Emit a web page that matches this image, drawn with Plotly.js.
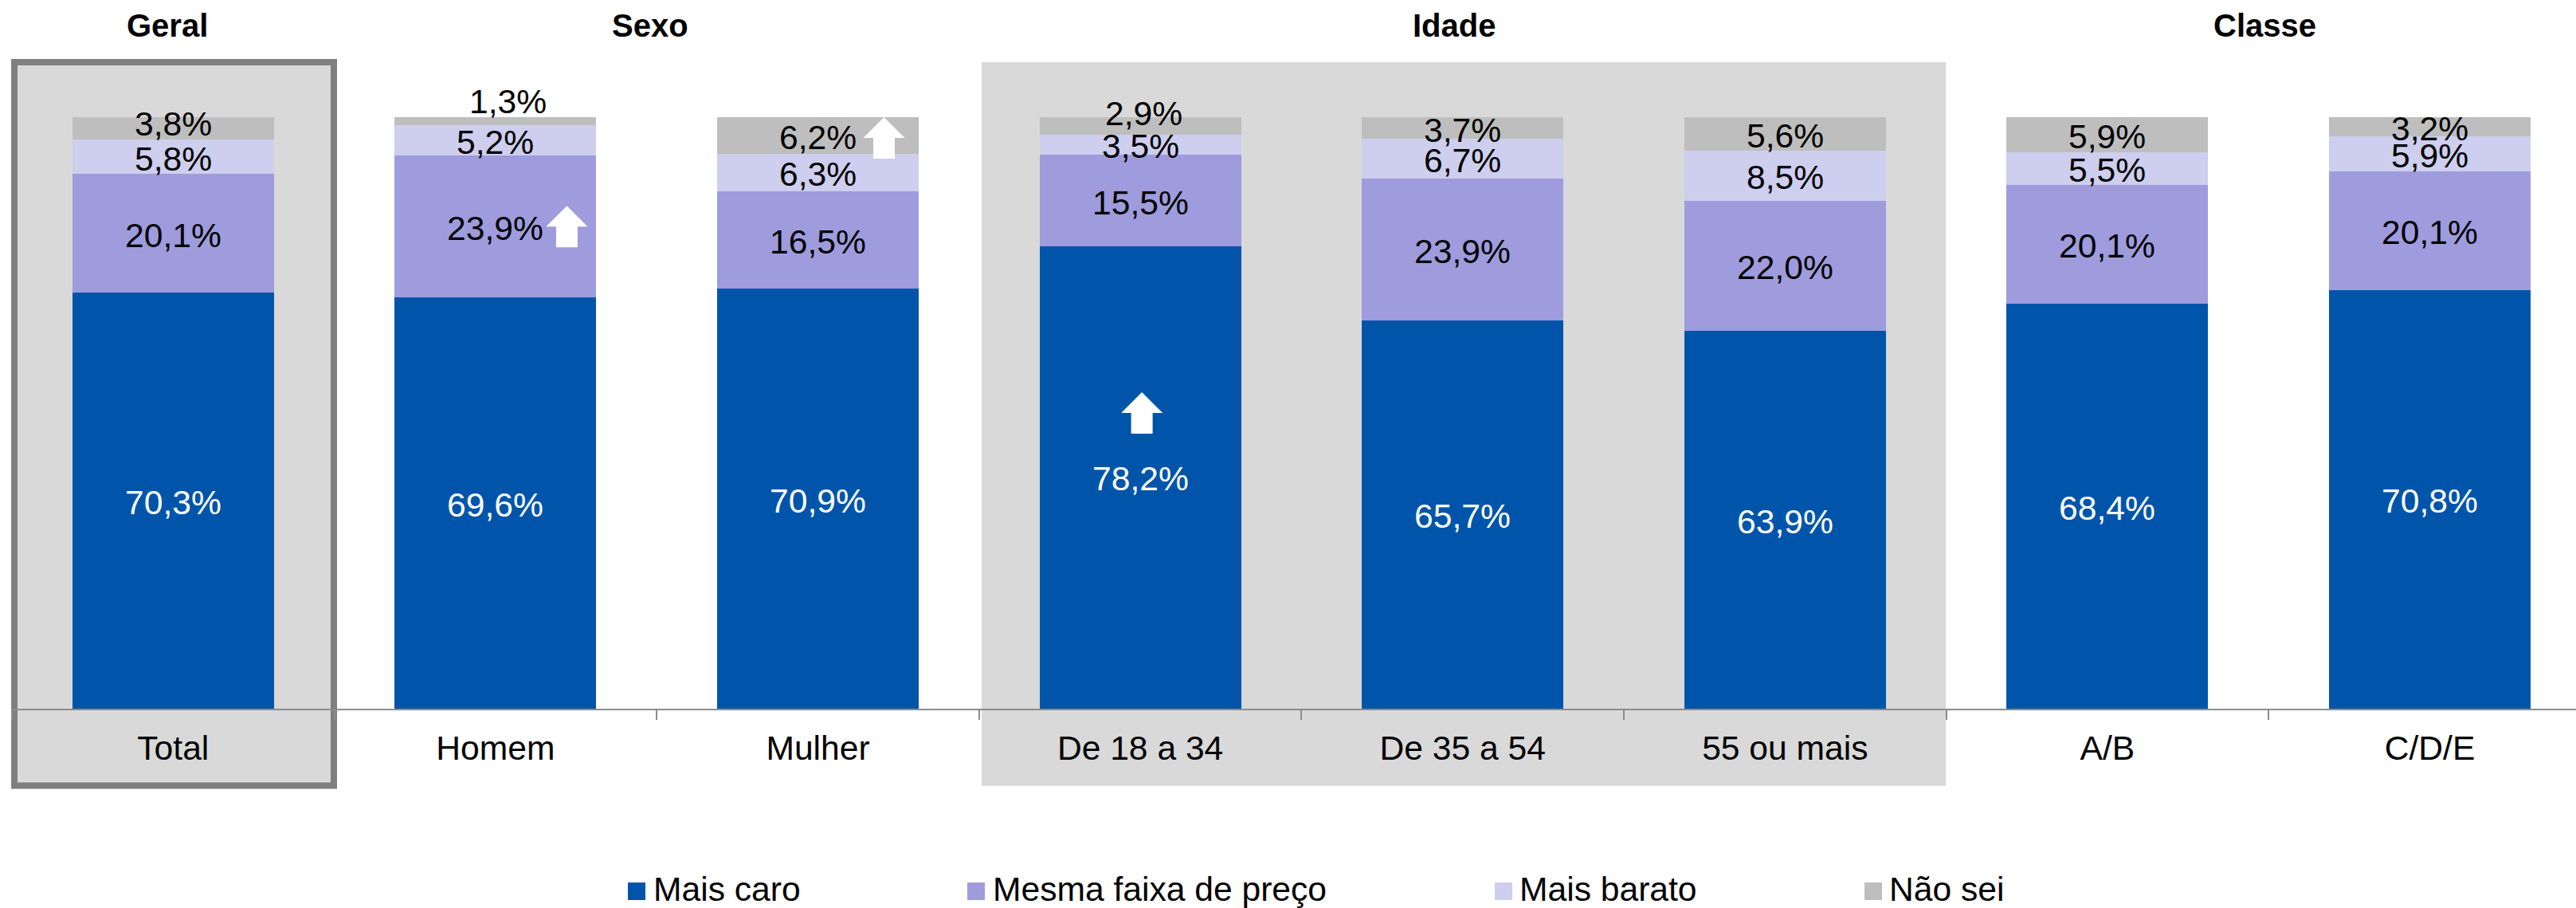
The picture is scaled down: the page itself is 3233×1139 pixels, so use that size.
<!DOCTYPE html>
<html>
<head>
<meta charset="utf-8">
<script src="https://cdn.plot.ly/plotly-3.0.1.min.js"></script>
<style>html,body{margin:0;padding:0;background:#fff;overflow:hidden}</style>
</head>
<body>
<div id="chart" style="width:3233px;height:1139px"></div>
<script>
// ---- data ----
const categories = ['Total','Homem','Mulher','De 18 a 34','De 35 a 54','55 ou mais','A/B','C/D/E'];
const maisCaro   = [70.3,69.6,70.9,78.2,65.7,63.9,68.4,70.8];
const mesmaFaixa = [20.1,23.9,16.5,15.5,23.9,22.0,20.1,20.1];
const maisBarato = [5.8,5.2,6.3,3.5,6.7,8.5,5.5,5.9];
const naoSei     = [3.8,1.3,6.2,2.9,3.7,5.6,5.9,3.2];
const seriesNames = ['Mais caro','Mesma faixa de preço','Mais barato','Não sei'];
const groupTitles = ['Geral','Sexo','Idade','Classe'];
const raisedMarks = [['Homem',85.0],['Mulher',100],['De 18 a 34',53.5]]; // significance arrows: category, tip value

// ---- presentation ----
const W = 3233, H = 1139, L = 15, T = 147, B = 889;
const FONT = '"Liberation Sans", Arial, sans-serif';
const LABEL_SIZE = 42.6;
const colors = ['#0055AA','#9E9CDD','#CECEEE','#BEBEBE'];
const textColors = ['#ffffff','#000000','#000000','#000000'];
const px = x => (x - L) / (W - L);
const py = y => (B - y) / (B - T);
const fmt = v => v.toFixed(1).replace('.', ',') + '%';

const seriesValues = [maisCaro, mesmaFaixa, maisBarato, naoSei];
// Labels the original nudges away from the centre of their segment: [dx, dy] in px, keyed series:category.
const defaultShift = [0, 2];
const labelShift = {'3:Total':[0,-6],'3:Homem':[16,-25],'3:De 18 a 34':[4,-16],'0:De 18 a 34':[0,1]};

const traces = seriesValues.map((vals, s) => ({
  type: 'bar',
  name: seriesNames[s],
  x: categories,
  y: vals,
  marker: {color: colors[s], line: {width: 0}},
  text: vals.map(fmt),
  textposition: 'none',
  showlegend: false,
  hovertemplate: '%{x}<br>' + seriesNames[s] + ': %{text}<extra></extra>'
}));

const annotations = [];
// Value labels sit above every bar (the original lets them overlap neighbouring segments).
categories.forEach((c, i) => {
  const total = seriesValues.reduce((a, sv) => a + sv[i], 0);
  let below = 0;
  seriesValues.forEach((sv, s) => {
    const shift = labelShift[s + ':' + c] || defaultShift;
    annotations.push({
      x: c, xref: 'x', y: (below + sv[i] / 2) * 100 / total, yref: 'y',
      text: fmt(sv[i]), showarrow: false, xanchor: 'center', yanchor: 'middle',
      xshift: shift[0], yshift: -shift[1],
      font: {family: FONT, size: LABEL_SIZE, color: textColors[s]}
    });
    below += sv[i];
  });
});

const groupX = [209.5, 816, 1825, 2842];
groupTitles.forEach((t, i) => annotations.push({
  x: px(groupX[i]), xref: 'paper', y: py(32), yref: 'paper',
  text: '<b>' + t + '</b>', showarrow: false, xanchor: 'center', yanchor: 'middle',
  font: {family: FONT, size: 40, color: '#000'}
}));

const legendSwatchX = [788, 1214, 1876, 2340];
const legendTextX = [819, 1245, 1906, 2370];
const shapes = [
  {type:'rect', xref:'paper', yref:'paper', x0:px(18), x1:px(419), y0:py(985.5), y1:py(78),
   layer:'below', fillcolor:'#D9D9D9', line:{color:'#7F7F7F', width:8}},
  {type:'rect', xref:'paper', yref:'paper', x0:px(1232), x1:px(2442), y0:py(985.7), y1:py(78),
   layer:'below', fillcolor:'#D9D9D9', line:{width:0}}
];
seriesNames.forEach((n, i) => {
  shapes.push({type:'rect', xref:'paper', yref:'paper',
    x0:px(legendSwatchX[i]), x1:px(legendSwatchX[i]+22), y0:py(1129), y1:py(1107),
    fillcolor:colors[i], line:{width:0}});
  annotations.push({x:px(legendTextX[i]), xref:'paper', y:py(1114.5), yref:'paper',
    text:n, showarrow:false, xanchor:'left', yanchor:'middle', borderpad:0,
    font:{family:FONT, size:LABEL_SIZE, color:'#000'}});
});

// White arrows: pixel-sized, anchored to a category and a value (anchor = arrow tip).
const arrowDx = {'Homem':89.5,'Mulher':83,'De 18 a 34':2};
const arrowPath = 'M0,0 L26,-26 L13.5,-26 L13.5,-52 L-13.5,-52 L-13.5,-26 L-26,-26 Z';
raisedMarks.forEach(([c, v]) => {
  shapes.push({type:'path', xref:'x', yref:'y',
    xsizemode:'pixel', ysizemode:'pixel',
    xanchor: categories.indexOf(c) + arrowDx[c] / 404.6, yanchor: v,
    path: arrowPath, fillcolor:'#fff', line:{width:0}, layer:'above'});
});

const layout = {
  width: W, height: H,
  margin: {l: L, r: 0, t: T, b: H - B, pad: 0},
  paper_bgcolor: '#fff', plot_bgcolor: 'rgba(0,0,0,0)',
  barmode: 'stack', barnorm: 'percent', bargap: 0.375,
  showlegend: false,
  font: {family: FONT, size: LABEL_SIZE, color: '#000'},
  xaxis: {
    type: 'category', categoryorder: 'array', categoryarray: categories,
    range: [-0.5, -0.5 + (W - L) / 404.6],
    tickson: 'boundaries', ticks: 'outside', ticklen: 12, tickwidth: 1.5, tickcolor: '#8C8C8C',
    showline: true, linecolor: '#8C8C8C', linewidth: 2, showgrid: false, zeroline: false,
    ticklabelstandoff: 11, tickangle: 0,
    tickfont: {family: FONT, size: LABEL_SIZE, color: '#000'}
  },
  yaxis: {range: [0, 100], visible: false, fixedrange: true},
  shapes, annotations
};
Plotly.newPlot('chart', traces, layout, {displayModeBar: false, responsive: false});
</script>
</body>
</html>
